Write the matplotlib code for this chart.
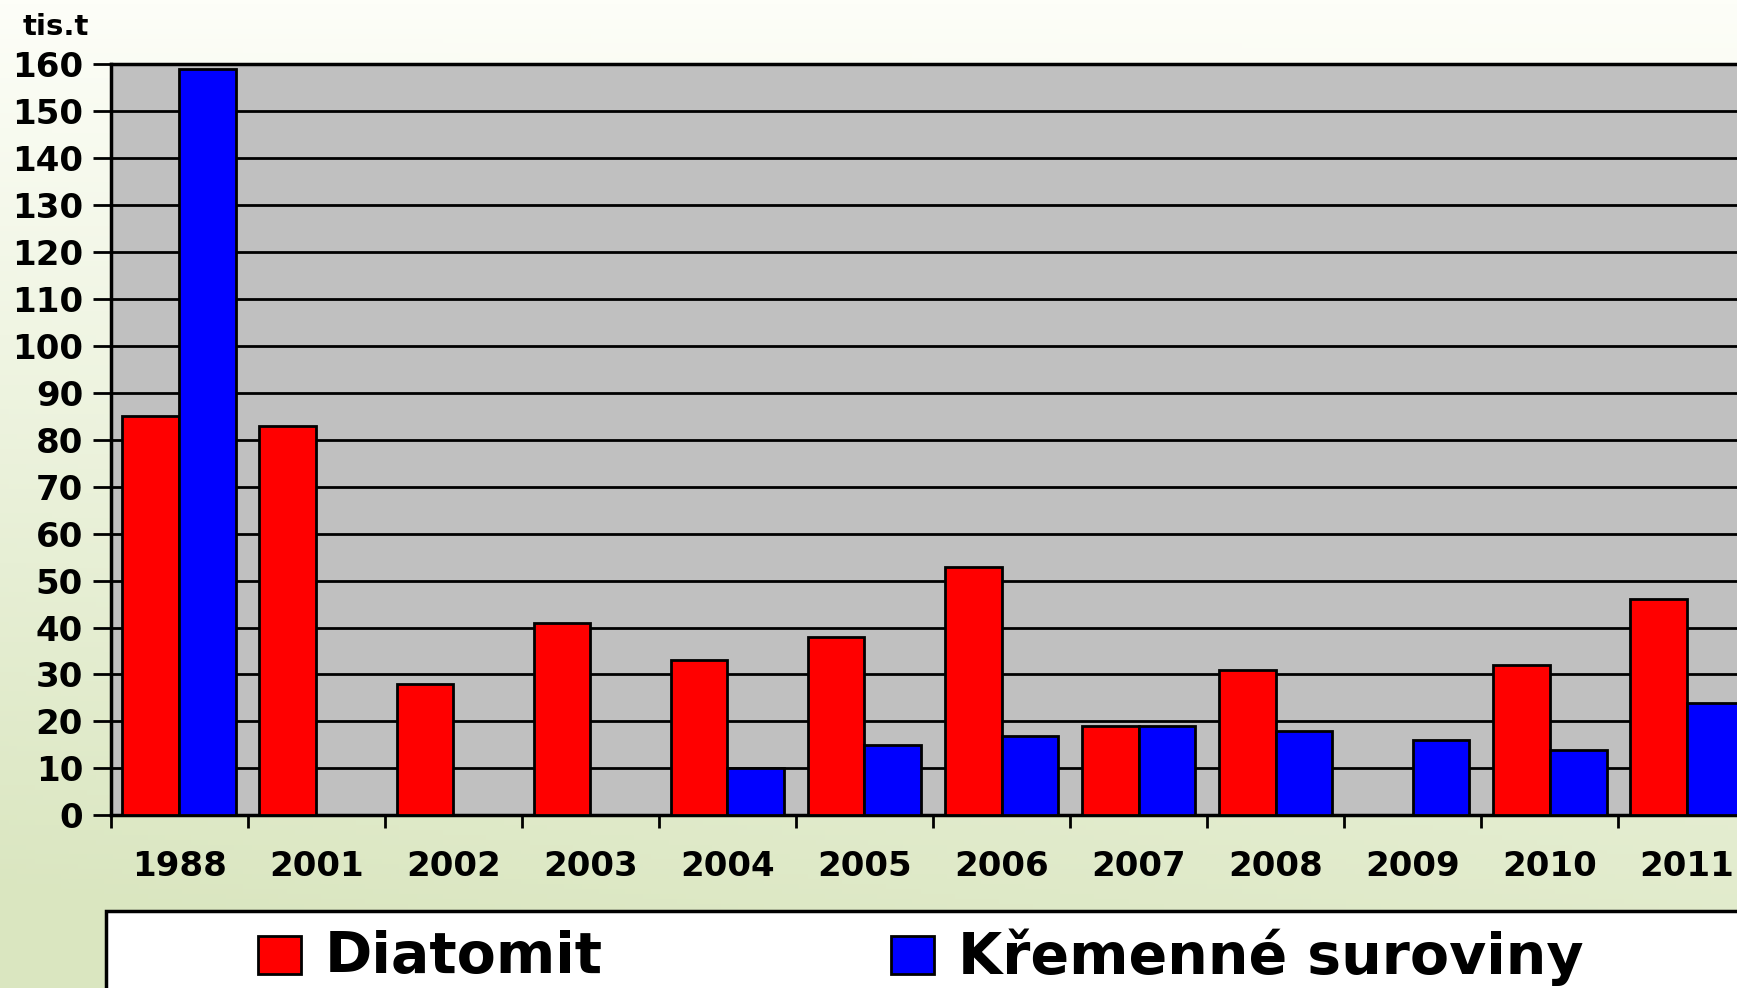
import numpy as np
import matplotlib
matplotlib.use("Agg")
import matplotlib.pyplot as plt
from matplotlib.patches import Rectangle

# data (tis. t)
years = ["1988", "2001", "2002", "2003", "2004", "2005",
         "2006", "2007", "2008", "2009", "2010", "2011"]
diatomit = [85, 83, 28, 41, 33, 38, 53, 19, 31, 0, 32, 46]
kremenne = [159, 0, 0, 0, 10, 15, 17, 19, 18, 16, 14, 24]
series_names = ["Diatomit", "Křemenné suroviny"]
series_colors = ["#ff0000", "#0000ff"]
y_ticks = list(range(0, 161, 10))

W, H = 1737, 988
fig = plt.figure(figsize=(W / 100, H / 100), dpi=100)

# background gradient (white at top, pale green at bottom-left)
bg = fig.add_axes([0, 0, 1, 1], zorder=-10)
yy, xx = np.mgrid[0:1:200j, 0:1:200j]
t = np.clip(yy * 0.85 + (1 - xx) * yy * 0.25, 0, 1)
top = np.array([0xfd, 0xfe, 0xf8]) / 255
bot = np.array([0xda, 0xe6, 0xc0]) / 255
img = top[None, None, :] * (1 - t[..., None]) + bot[None, None, :] * t[..., None]
bg.imshow(img, aspect="auto", extent=[0, 1, 0, 1], origin="upper")
bg.axis("off")

left = 110.8 / W
bottom = (H - 815.3) / H
height = (815.3 - 64.3) / H
ax = fig.add_axes([left, bottom, 1 - left, height])
ax.set_facecolor("#c0c0c0")

x = np.arange(len(years))
bw = 0.415
ax.bar(x - bw / 2, diatomit, bw, color=series_colors[0], edgecolor="black", linewidth=2, zorder=3)
ax.bar(x + bw / 2, kremenne, bw, color=series_colors[1], edgecolor="black", linewidth=2, zorder=3)

cat_px = 123.7 * W / 1568
ax.set_xlim(-0.5, -0.5 + (W - 110.8) / cat_px)
ax.set_ylim(0, 160)
ax.set_yticks(y_ticks)
ax.yaxis.grid(True, color="black", linewidth=2)
ax.set_axisbelow(True)

ax.set_xticks(x)
ax.set_xticklabels(years)
ax.set_xticks(np.arange(len(years)) - 0.5, minor=True)
ax.tick_params(axis="x", which="major", length=0, pad=25, labelsize=24.5)
ax.tick_params(axis="x", which="minor", length=9, width=2, direction="out")
ax.tick_params(axis="y", length=13, width=2, pad=7, labelsize=24.5)
for lab in ax.get_xticklabels() + ax.get_yticklabels():
    lab.set_fontweight("bold")

for s in ["left", "bottom", "top"]:
    ax.spines[s].set_linewidth(2.5)
ax.spines["right"].set_visible(False)

fig.text(23 / W, 1 - 35 / H, "tis.t", fontsize=21, fontweight="bold", va="baseline")

# legend box along the bottom
fig.patches.append(Rectangle((106 / W, -0.1), 1.0, (H - 911) / H + 0.1,
                             transform=fig.transFigure, facecolor="white",
                             edgecolor="black", linewidth=2.5, zorder=5))
patch_x = [258, 891]
text_x = [325, 958]
for name, col, px, tx in zip(series_names, series_colors, patch_x, text_x):
    fig.patches.append(Rectangle((px / W, (H - 974) / H), 43 / W, 38 / H,
                                 transform=fig.transFigure, facecolor=col,
                                 edgecolor="black", linewidth=2, zorder=6))
    fig.text(tx / W, (H - 957) / H, name, fontsize=41, fontweight="bold",
             va="center", ha="left", zorder=7)

fig.savefig("out.png", dpi=100)
